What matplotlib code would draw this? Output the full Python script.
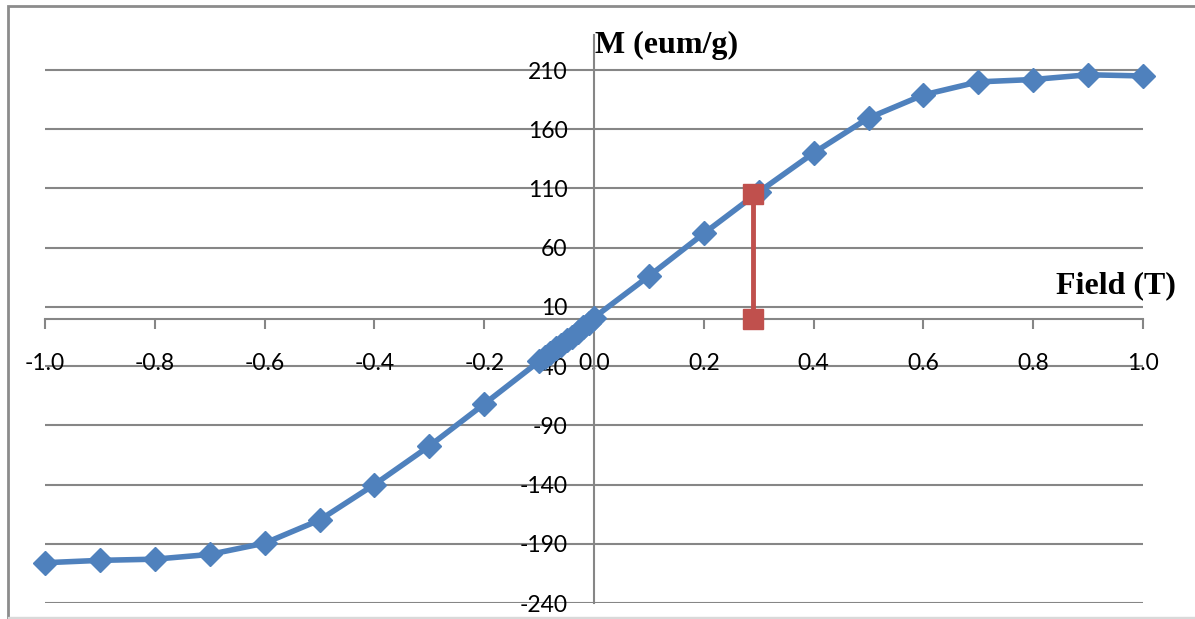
import matplotlib.pyplot as plt
from matplotlib.patches import Rectangle

plt.rcParams['axes.unicode_minus'] = False

# data
field = [-1.0, -0.9, -0.8, -0.7, -0.6, -0.5, -0.4, -0.3, -0.2, -0.1,
         -0.09, -0.08, -0.07, -0.06, -0.05, -0.04, -0.03, -0.02, -0.01, 0.0,
         0.1, 0.2, 0.3, 0.4, 0.5, 0.6, 0.7, 0.8, 0.9, 1.0]
moment = [-206, -204, -203, -199, -189.5, -170, -140, -107.5, -72, -36,
          -32, -29, -25, -22, -18, -15, -11, -7, -4, 1,
          36, 72, 107, 140, 169.5, 189, 200, 202, 206, 205]
mr_x = [0.29, 0.29]
mr_y = [105, 0]

x_ticks = [-1.0, -0.8, -0.6, -0.4, -0.2, 0.0, 0.2, 0.4, 0.6, 0.8, 1.0]
y_ticks = [-240, -190, -140, -90, -40, 10, 60, 110, 160, 210]

fig = plt.figure(figsize=(11.95, 6.19), dpi=100)
ax = fig.add_axes([45/1195, 1-603/619, 1098/1195, 568.5/619])

grey = '#868686'
for y in y_ticks:
    ax.axhline(y, color=grey, lw=1.5, zorder=1)

ax.plot(field, moment, color='#4F81BD', lw=4, marker='D', ms=12,
        clip_on=False, zorder=4)
ax.plot(mr_x, mr_y, color='#C0504D', lw=3.5, marker='s', ms=14,
        clip_on=False, zorder=5)

ax.set_xlim(-1.0, 1.0)
ax.set_ylim(-240, 240)

for s in ['top', 'right']:
    ax.spines[s].set_visible(False)
ax.spines['bottom'].set_position(('data', 0))
ax.spines['left'].set_position(('data', 0))
for s in ['bottom', 'left']:
    ax.spines[s].set_color(grey)
    ax.spines[s].set_linewidth(1.5)

ax.set_xticks(x_ticks)
ax.set_xticklabels(['%.1f' % v for v in x_ticks])
ax.set_yticks(y_ticks)
ax.set_yticklabels([str(v) for v in y_ticks])
ax.tick_params(axis='x', direction='out', length=7, width=1.5, color=grey,
               pad=18, labelsize=16.5)
ax.tick_params(axis='y', length=0, pad=19, labelsize=16.5)
for lab in ax.get_xticklabels() + ax.get_yticklabels():
    lab.set_family(['Lato', 'DejaVu Sans'])

ax.text(595/1195, 1-45/619, 'M (eum/g)', transform=fig.transFigure,
        family='Liberation Serif', weight='bold', fontsize=23,
        ha='left', va='center')
ax.text(1056/1195, 1-286/619, 'Field (T)', transform=fig.transFigure,
        family='Liberation Serif', weight='bold', fontsize=23,
        ha='left', va='center')

# chart frame
fig.patches.append(Rectangle((8/1195, -0.01), 1.2, 1-6/619+0.01,
                             transform=fig.transFigure, fill=False,
                             edgecolor='#8c8c8c', lw=2))
fig.patches.append(Rectangle((8/1195, 1/619), 1.2, 0.001,
                             transform=fig.transFigure, fill=False,
                             edgecolor='#d9d9d9', lw=1))

fig.savefig('out.png', dpi=100)
